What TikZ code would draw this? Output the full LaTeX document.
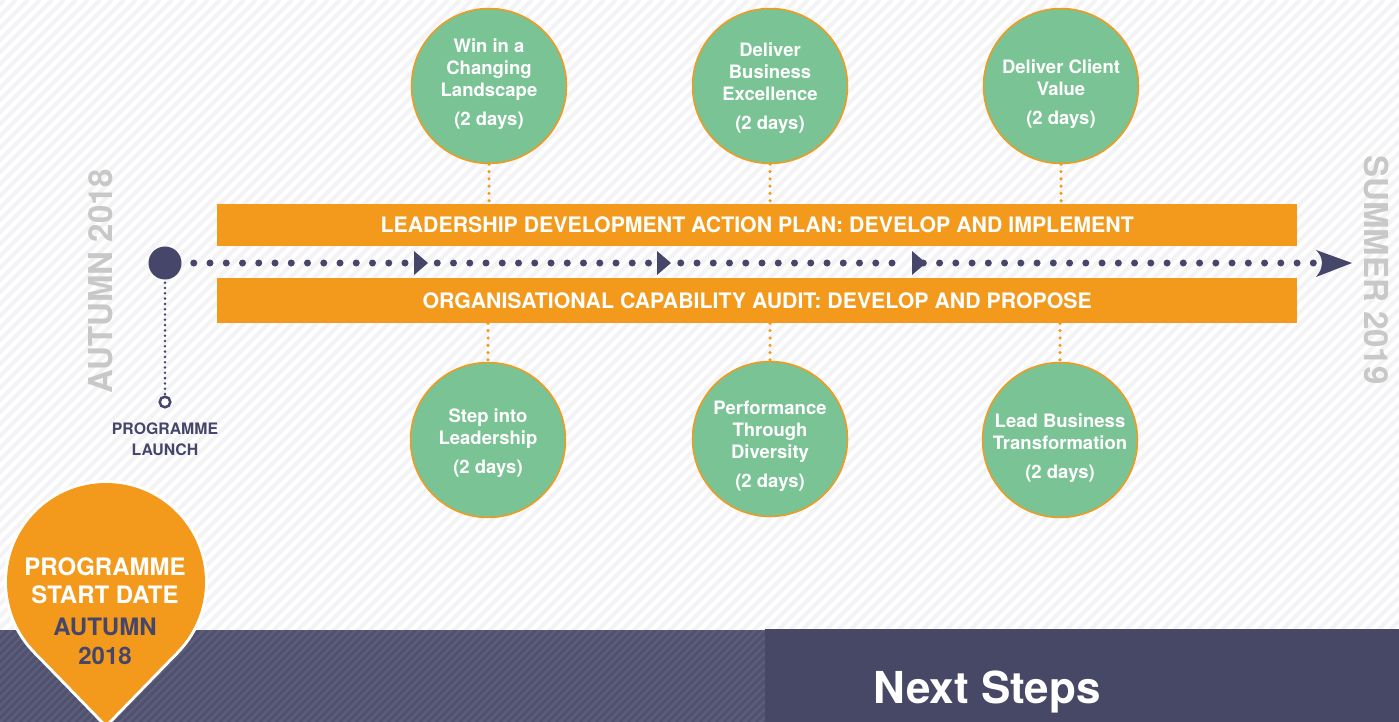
\documentclass[tikz,border=0pt]{standalone}
\usepackage{fontspec}
\setmainfont{TeX Gyre Heros}
\usetikzlibrary{calc}
\definecolor{navy}{HTML}{45466A}
\definecolor{orng}{HTML}{F39A1C}
\definecolor{grn}{HTML}{79C394}
\definecolor{gtext}{HTML}{C8C8C8}
\definecolor{stripecol}{HTML}{F3F3F5}
\definecolor{barbase}{HTML}{5C5D7B}
\definecolor{barstripe}{HTML}{50516F}
\definecolor{boxnavy}{HTML}{474866}
\begin{document}
\begin{tikzpicture}[x=1pt,y=-1pt,
  course/.style={circle, fill=grn, draw=orng, line width=1.5pt, minimum size=155pt, inner sep=0pt},
  ctext/.style={text=white, font=\bfseries\fontsize{18.5}{22}\selectfont, align=center, inner sep=0pt},
  barbox/.style={fill=orng, minimum width=1080pt, inner sep=0pt, anchor=north west},
  bartext/.style={text=white, font=\bfseries\fontsize{21.3}{25}\selectfont, inner sep=0pt},
  dotline/.style={draw=navy, line width=7pt, line cap=round, dash pattern=on 0pt off 16.25pt},
  odots/.style={draw=orng, line width=3.5pt, line cap=round, dash pattern=on 0pt off 7.3pt},
  seasontext/.style={text=gtext, font=\bfseries\fontsize{33}{33}\selectfont, inner sep=0pt},
]
\useasboundingbox (0,0) rectangle (1399,722);
% background
\fill[white] (0,0) rectangle (1399,722);
\begin{scope}
  \clip (0,0) rectangle (1399,630);
  \foreach \i in {-730,-718,...,1400} \draw[stripecol, line width=4pt] (\i,722) -- ({\i+722},0);
\end{scope}
% bottom bar
\fill[barbase] (0,630) rectangle (765,722);
\begin{scope}
  \clip (0,630) rectangle (765,722);
  \foreach \i in {-100,-92,...,770} \draw[barstripe, line width=3pt] (\i,722) -- ({\i+92},630);
\end{scope}
\fill[boxnavy] (765,629) rectangle (1399,722);
\node[anchor=base, text=white, font=\bfseries\fontsize{44}{44}\selectfont, inner sep=0pt] (next) at (987,703) {Next Steps};

% bars
\node[barbox, minimum height=42pt] (bar1) at (217,204) {};
\node[barbox, minimum height=45pt] (bar2) at (217,278) {};
\node[bartext] (bar1t) at (bar1.center) {LEADERSHIP DEVELOPMENT ACTION PLAN: DEVELOP AND IMPLEMENT};
\node[bartext] (bar2t) at (bar2.center) {ORGANISATIONAL CAPABILITY AUDIT: DEVELOP AND PROPOSE};

% course circles
\node[course] (c1) at (489,86) {};
\node[course] (c2) at (770,86) {};
\node[course] (c3) at (1061,86) {};
\node[course] (c4) at (488,440) {};
\node[course] (c5) at (770,439) {};
\node[course] (c6) at (1060,440) {};
\node[ctext] (c1t) at (489,84) {Win in a\\Changing\\Landscape\\[7pt](2 days)};
\node[ctext] (c2t) at (770,88.5) {Deliver\\Business\\Excellence\\[7pt](2 days)};
\node[ctext] (c3t) at (1061,94.5) {Deliver Client\\Value\\[7pt](2 days)};
\node[ctext] (c4t) at (488,443.5) {Step into\\Leadership\\[7pt](2 days)};
\node[ctext] (c5t) at (770,446) {Performance\\Through\\Diversity\\[7pt](2 days)};
\node[ctext] (c6t) at (1060,448.5) {Lead Business\\Transformation\\[7pt](2 days)};

% orange connectors
\draw[odots] (c1.south) -- (c1.south |- bar1.north);
\draw[odots] (c2.south) -- (c2.south |- bar1.north);
\draw[odots] (c3.south) -- (c3.south |- bar1.north);
\draw[odots] (c4.north |- bar2.south) -- (c4.north);
\draw[odots] (c5.north |- bar2.south) -- (c5.north);
\draw[odots] (c6.north |- bar2.south) -- (c6.north);

% timeline
\node[circle, fill=navy, minimum size=33pt, inner sep=0pt] (launch) at (165,263) {};
\node[circle, draw=navy, fill=white, line width=2.5pt, minimum size=10.6pt, inner sep=0pt] (lend) at (165,402) {};
\coordinate (t1) at (414,263);
\coordinate (t2) at (657,263);
\coordinate (t3) at (912,263);
\coordinate (tip) at (1352,263);
\draw[navy, line width=2.8pt, line cap=round, dash pattern=on 0pt off 5.3pt, shorten <=3pt] (launch.south) -- (lend.north);
\draw[dotline, shorten <=9pt] (t1) -- (launch);
\draw[dotline, shorten <=23.25pt] (t1) -- (t2);
\draw[dotline, shorten <=23.75pt, shorten >=5pt] (t2) -- (t3);
\draw[dotline, shorten <=11.3pt, shorten >=20pt] (t3) -- (tip);
\foreach \t in {t1,t2,t3} \fill[navy] (\t) ++(0,-12) -- ++(14,12) -- ++(-14,12) -- cycle;
\fill[navy] (tip) -- (1316,250) .. controls (1321,256) .. (1322,263) .. controls (1321,270) .. (1316,277) -- cycle;

\node[text=navy, font=\bfseries\fontsize{15.8}{21.5}\selectfont, align=center, inner sep=0pt] (launcht) at (165,439) {PROGRAMME\\LAUNCH};

% season labels
\node[seasontext, rotate=90] (aut) at (101,281) {AUTUMN 2018};
\node[seasontext, rotate=-90] (sum) at (1377,270) {SUMMER 2019};

% pin
\coordinate (pinc) at (106,582);
\draw[white, line width=6pt, line join=round] (pinc) circle[radius=99pt];
\draw[white, line width=6pt, line join=round] (106,724) -- (36,652) -- (106,582) -- (176,652) -- cycle;
\fill[orng] (pinc) circle[radius=99pt];
\fill[orng] (106,724) -- (36,652) -- (106,582) -- (176,652) -- cycle;
\node[align=center, font=\bfseries\fontsize{24}{28.5}\selectfont, inner sep=0pt] (pint) at (105,611) {\textcolor{white}{PROGRAMME}\\\textcolor{white}{START DATE}\\[3.5pt]\textcolor{navy}{AUTUMN}\\\textcolor{navy}{2018}};
\end{tikzpicture}
\end{document}
